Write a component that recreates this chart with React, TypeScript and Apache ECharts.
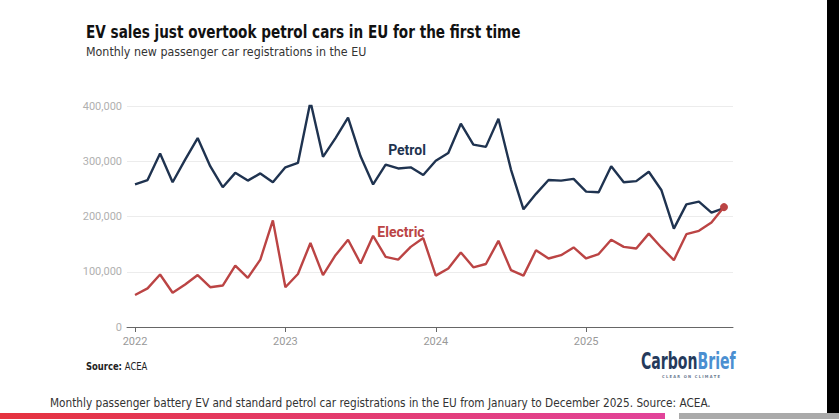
import React, { useEffect, useRef } from "react";
import * as echarts from "echarts";

const yearLabels = ["2022", "2023", "2024", "2025"];
const yearTickMonths = [0, 12, 24, 36];

const petrol = [
  258, 266, 314, 262, 303, 342, 291, 253, 279, 265, 278, 262,
  289, 297, 408, 308, 342, 379, 309, 258, 294, 287, 289, 275,
  301, 315, 368, 330, 326, 377, 285, 213, 241, 266, 265, 268,
  245, 244, 291, 262, 264, 281, 248, 178, 222, 227, 207, 215,
];

const electric = [
  58, 70, 95, 62, 77, 94, 72, 75, 111, 89, 122, 193,
  72, 96, 152, 94, 130, 158, 115, 165, 127, 122, 145, 161,
  93, 106, 135, 108, 114, 156, 103, 93, 139, 124, 130, 144,
  124, 132, 158, 145, 142, 169, 144, 121, 168, 174, 189, 217,
];

const yTicks = [0, 100000, 200000, 300000, 400000];

const NARROW = "'DejaVu Sans Condensed', 'Noto Sans', sans-serif";
const PETROL_C = "#1f3350";
const ELEC_C = "#bb4444";

export default function App() {
  const ref = useRef<HTMLDivElement>(null);
  useEffect(() => {
    if (!ref.current) return;
    const chart = echarts.init(ref.current, null, { renderer: "svg" });
    const toPts = (arr: number[]) => arr.map((v, i) => [i, v * 1000]);
    const elecPts = toPts(electric);
    chart.setOption({
      animation: false,
      backgroundColor: "#ffffff",
      grid: { left: 127, right: 106, top: 106, bottom: 92, containLabel: false },
      xAxis: {
        type: "value",
        min: -0.64,
        max: 47.72,
        axisLine: { show: true, lineStyle: { color: "#666", width: 1 } },
        axisTick: {
          show: true,
          length: 5,
          customValues: yearTickMonths,
          lineStyle: { color: "#666" },
        },
        axisLabel: {
          customValues: yearTickMonths,
          formatter: (v: number) => yearLabels[yearTickMonths.indexOf(Math.round(v))] ?? "",
          color: "#999",
          fontFamily: "Roboto, sans-serif",
          fontSize: 11,
          margin: 9,
        },
        splitLine: { show: false },
      },
      yAxis: {
        type: "value",
        min: yTicks[0],
        max: yTicks[yTicks.length - 1],
        interval: 100000,
        axisLine: { show: false },
        axisTick: { show: false },
        axisLabel: {
          formatter: (v: number) => v.toLocaleString("en-US"),
          color: "#b0b0b0",
          fontFamily: "Roboto, sans-serif",
          fontSize: 11,
          margin: 5,
        },
        splitLine: { show: true, lineStyle: { color: "#ececec", width: 1 } },
      },
      series: [
        {
          name: "Petrol",
          type: "line",
          data: toPts(petrol),
          symbol: "none",
          lineStyle: { color: PETROL_C, width: 2.4 },
          z: 3,
        },
        {
          name: "Electric",
          type: "line",
          data: elecPts,
          symbol: "none",
          lineStyle: { color: ELEC_C, width: 2.4 },
          markPoint: {
            symbol: "circle",
            symbolSize: 8,
            itemStyle: { color: ELEC_C },
            label: { show: false },
            data: [{ coord: elecPts[elecPts.length - 1] }],
          },
          z: 4,
        },
      ],
      graphic: [
        {
          type: "text",
          x: 86,
          y: 23,
          scaleX: 0.84,
          style: {
            text: "EV sales just overtook petrol cars in EU for the first time",
            font: `bold 18px ${NARROW}`,
            fill: "#111",
            verticalAlign: "top",
          },
        },
        {
          type: "text",
          x: 86,
          y: 45,
          scaleX: 0.95,
          style: {
            text: "Monthly new passenger car registrations in the EU",
            font: `13px ${NARROW}`,
            fill: "#333",
            verticalAlign: "top",
          },
        },
        {
          type: "text",
          x: 407,
          y: 150,
          style: {
            text: "Petrol",
            font: "bold 14px Roboto, sans-serif",
            fill: PETROL_C,
            align: "center",
            verticalAlign: "middle",
          },
        },
        {
          type: "text",
          x: 401,
          y: 232,
          style: {
            text: "Electric",
            font: "bold 14px Roboto, sans-serif",
            fill: ELEC_C,
            align: "center",
            verticalAlign: "middle",
          },
        },
        {
          type: "text",
          x: 86,
          y: 360,
          scaleX: 0.85,
          style: {
            text: "{b|Source:} {n|ACEA}",
            verticalAlign: "top",
            rich: {
              b: { font: `bold 11px ${NARROW}`, fill: "#222" },
              n: { font: `11px ${NARROW}`, fill: "#222" },
            },
          },
        },
        {
          type: "text",
          x: 641,
          y: 350,
          scaleX: 0.68,
          style: {
            text: "{a|Carbon}{b|Brief}",
            verticalAlign: "top",
            rich: {
              a: { font: `bold 23px ${NARROW}`, fill: "#253a5c" },
              b: { font: `bold 23px ${NARROW}`, fill: "#4b8fd1" },
            },
          },
        },
        {
          type: "text",
          x: 662,
          y: 374,
          style: {
            text: "C L E A R   O N   C L I M A T E",
            font: `bold 4px ${NARROW}`,
            fill: "#6a7a90",
            verticalAlign: "top",
          },
        },
        {
          type: "text",
          x: 50,
          y: 396,
          scaleX: 0.9,
          style: {
            text: "Monthly passenger battery EV and standard petrol car registrations in the EU from January to December 2025. Source: ACEA.",
            font: `13px ${NARROW}`,
            fill: "#333",
            verticalAlign: "top",
          },
        },
        {
          type: "rect",
          shape: { x: 0, y: 413, width: 665, height: 6 },
          style: {
            fill: new echarts.graphic.LinearGradient(0, 0, 1, 0, [
              { offset: 0, color: "#e5333f" },
              { offset: 1, color: "#e2449a" },
            ]),
          },
        },
        {
          type: "rect",
          shape: { x: 679, y: 413, width: 160, height: 6 },
          style: { fill: "#aaaaaa" },
        },
        {
          type: "rect",
          shape: { x: 827, y: 0, width: 12, height: 413 },
          style: { fill: "#000000" },
        },
      ],
    });
    return () => chart.dispose();
  }, []);
  return (
    <div
      ref={ref}
      style={{ position: "fixed", left: 0, top: 0, width: 839, height: 419, background: "#fff" }}
    />
  );
}
